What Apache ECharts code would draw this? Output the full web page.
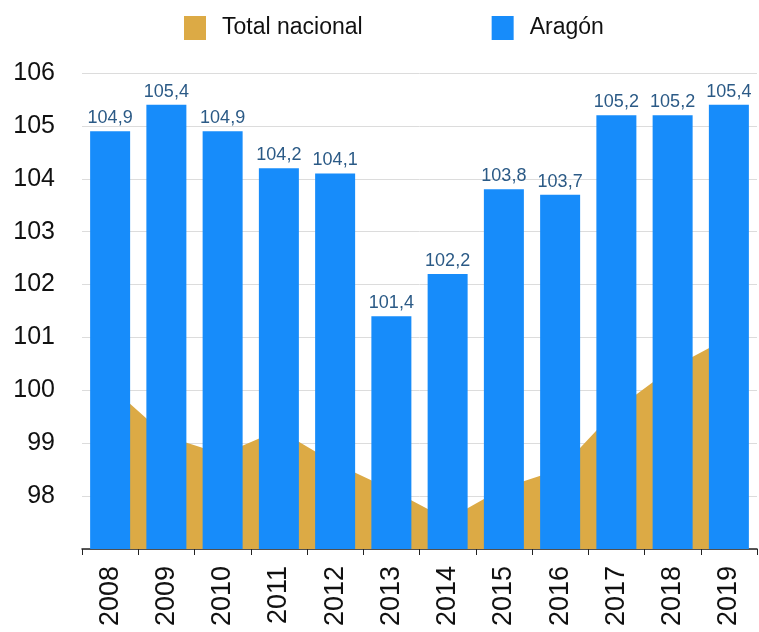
<!DOCTYPE html>
<html>
<head>
<meta charset="utf-8">
<script src="https://cdn.jsdelivr.net/npm/echarts@6/dist/echarts.min.js"></script>
<style>html,body{margin:0;padding:0;background:#fff}#c{width:759px;height:632px}</style>
</head>
<body>
<div id="c"></div>
<script>
var years = ['2008','2009','2010','2011','2012','2013','2014','2015','2016','2017','2018','2019'];
var aragon = [104.9,105.4,104.9,104.2,104.1,101.4,102.2,103.8,103.7,105.2,105.2,105.4];
var nacional = [100.08,99.13,98.79,99.25,98.62,98.12,97.56,98.16,98.51,99.64,100.43,101.0];
var yMin = 97, yMax = 106, yStep = 1;

var chart = echarts.init(document.getElementById('c'), null, {renderer:'canvas'});
var FONT = '"Liberation Sans", Arial, Helvetica, sans-serif';
chart.setOption({
  animation: false,
  backgroundColor: '#ffffff',
  textStyle: {fontFamily: FONT},
  legend: {
    left: 179, top: 11,
    itemWidth: 22, itemHeight: 24, itemGap: 129,
    icon: 'rect',
    textStyle: {fontSize: 23, color: '#111', fontFamily: FONT, padding: [0,0,0,11]},
    data: ['Total nacional','Aragón']
  },
  grid: {left: 82, right: 2, top: 73, bottom: 83, containLabel: false},
  xAxis: {
    type: 'category', data: years, boundaryGap: true,
    axisLine: {show: true, lineStyle: {color: '#222', width: 1.5}},
    axisTick: {show: true, length: 6, lineStyle: {color: '#222'}},
    axisLabel: {rotate: 90, fontSize: 27, color: '#111', margin: 17, fontFamily: FONT}
  },
  yAxis: {
    type: 'value', min: yMin, max: yMax, interval: yStep,
    axisLine: {show: false}, axisTick: {show: false},
    splitLine: {lineStyle: {color: '#dcdcdc', width: 1}},
    axisLabel: {fontSize: 25, color: '#111', margin: 27, showMinLabel: false, fontFamily: FONT}
  },
  series: [
    {
      name: 'Total nacional', type: 'line', data: nacional,
      symbol: 'none', z: 1,
      itemStyle: {color: '#dcaa45'},
      lineStyle: {width: 0, color: '#dcaa45'},
      areaStyle: {color: '#dcaa45', opacity: 1, origin: 'start'}
    },
    {
      name: 'Aragón', type: 'bar', data: aragon,
      barWidth: 40, z: 3,
      itemStyle: {color: '#178cfa'},
      label: {
        show: true, position: 'top', distance: 4,
        fontSize: 18, color: '#2b5a86', fontFamily: FONT,
        formatter: function(p){ return p.value.toFixed(1).replace('.', ','); }
      }
    }
  ]
});
</script>
</body>
</html>
